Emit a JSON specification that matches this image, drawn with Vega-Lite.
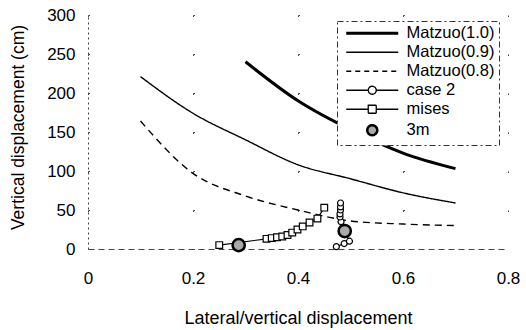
{
  "$schema": "https://vega.github.io/schema/vega-lite/v6.json",
  "width": 420,
  "height": 234,
  "autosize": "none",
  "padding": {"left": 88, "top": 15, "right": 18, "bottom": 81},
  "background": "white",
  "config": {"view": {"stroke": null}, "font": "Liberation Sans"},
  "data": {
    "values": [
      {"series": "Matzuo(1.0)", "x": 0.3, "y": 240},
      {"series": "Matzuo(1.0)", "x": 0.4, "y": 190},
      {"series": "Matzuo(1.0)", "x": 0.5, "y": 153},
      {"series": "Matzuo(1.0)", "x": 0.6, "y": 123},
      {"series": "Matzuo(1.0)", "x": 0.7, "y": 103},
      {"series": "Matzuo(0.9)", "x": 0.1, "y": 221},
      {"series": "Matzuo(0.9)", "x": 0.2, "y": 174},
      {"series": "Matzuo(0.9)", "x": 0.3, "y": 140},
      {"series": "Matzuo(0.9)", "x": 0.4, "y": 108},
      {"series": "Matzuo(0.9)", "x": 0.5, "y": 90},
      {"series": "Matzuo(0.9)", "x": 0.6, "y": 72},
      {"series": "Matzuo(0.9)", "x": 0.7, "y": 59},
      {"series": "Matzuo(0.8)", "x": 0.1, "y": 164},
      {"series": "Matzuo(0.8)", "x": 0.2, "y": 97},
      {"series": "Matzuo(0.8)", "x": 0.3, "y": 68},
      {"series": "Matzuo(0.8)", "x": 0.4, "y": 50},
      {"series": "Matzuo(0.8)", "x": 0.5, "y": 36},
      {"series": "Matzuo(0.8)", "x": 0.6, "y": 32},
      {"series": "Matzuo(0.8)", "x": 0.7, "y": 30},
      {"series": "mises", "x": 0.25, "y": 5},
      {"series": "mises", "x": 0.34, "y": 13},
      {"series": "mises", "x": 0.35, "y": 14},
      {"series": "mises", "x": 0.36, "y": 15},
      {"series": "mises", "x": 0.37, "y": 16},
      {"series": "mises", "x": 0.38, "y": 18},
      {"series": "mises", "x": 0.389, "y": 21},
      {"series": "mises", "x": 0.399, "y": 25},
      {"series": "mises", "x": 0.409, "y": 29},
      {"series": "mises", "x": 0.422, "y": 34},
      {"series": "mises", "x": 0.437, "y": 39},
      {"series": "mises", "x": 0.45, "y": 53},
      {"series": "case 2", "k": 1, "x": 0.473, "y": 3},
      {"series": "case 2", "k": 2, "x": 0.488, "y": 7},
      {"series": "case 2", "k": 3, "x": 0.498, "y": 10},
      {"series": "case 2", "k": 4, "x": 0.489, "y": 22},
      {"series": "case 2", "k": 5, "x": 0.482, "y": 35},
      {"series": "case 2", "k": 6, "x": 0.48, "y": 41},
      {"series": "case 2", "k": 7, "x": 0.48, "y": 45},
      {"series": "case 2", "k": 8, "x": 0.481, "y": 50},
      {"series": "case 2", "k": 9, "x": 0.481, "y": 54},
      {"series": "case 2", "k": 10, "x": 0.481, "y": 59},
      {"series": "3m", "x": 0.287, "y": 5},
      {"series": "3m", "x": 0.489, "y": 23}
    ]
  },
  "encoding": {
    "x": {
      "field": "x", "type": "quantitative",
      "scale": {"domain": [0, 0.8], "nice": false, "zero": false},
      "axis": {
        "title": "Lateral/vertical displacement",
        "values": [0, 0.2, 0.4, 0.6, 0.8],
        "format": "~g",
        "labelFontSize": 17, "labelColor": "#000", "labelPadding": 21,
        "labelFlush": false, "labelOverlap": false,
        "ticks": false,
        "domainColor": "#444", "domainDash": [6, 4],
        "grid": true, "gridColor": "#444", "gridDash": [1.5, 37.5],
        "titleFontSize": 18, "titleFontWeight": "normal", "titleColor": "#000",
        "titleY": 69, "titleBaseline": "middle"
      }
    },
    "y": {
      "field": "y", "type": "quantitative",
      "scale": {"domain": [0, 300], "nice": false},
      "axis": {
        "title": "Vertical displacement (cm)",
        "values": [0, 50, 100, 150, 200, 250, 300],
        "labelFontSize": 17, "labelColor": "#000", "labelPadding": 13,
        "labelOverlap": false,
        "ticks": false,
        "domainColor": "#444", "domainDash": [2, 3],
        "grid": true, "gridColor": "#444", "gridDash": [1.5, 103.5],
        "titleFontSize": 17.5, "titleFontWeight": "normal", "titleColor": "#000",
        "titleX": -70, "titleY": 112, "titleAngle": -90, "titleBaseline": "middle"
      }
    }
  },
  "layer": [
    {
      "transform": [{"filter": {"field": "series", "oneOf": ["Matzuo(0.9)", "Matzuo(0.8)"]}}],
      "mark": {"type": "line", "strokeWidth": 1.4, "interpolate": "monotone"},
      "encoding": {
        "color": {
          "field": "series", "type": "nominal",
          "scale": {
            "domain": ["Matzuo(1.0)", "Matzuo(0.9)", "Matzuo(0.8)", "case 2", "mises", "3m"],
            "range": ["#000", "#000", "#000", "#000", "#000", "#000"]
          },
          "legend": {
            "title": null,
            "orient": "none", "legendX": 249, "legendY": 6,
            "symbolSize": 100,
            "symbolOffset": 23,
            "labelOffset": 26,
            "labelFontSize": 16.5, "labelFont": "Liberation Sans", "labelColor": "#000",
            "padding": 4, "rowPadding": 2,
            "strokeColor": "#333", "fillColor": "white",
            "encode": {
              "legend": {"update": {"strokeDash": {"value": [6, 3, 2, 3]}}},
              "symbols": {
                "update": {
                  "shape": {"signal": "datum.value === 'case 2' ? 'M-5.2,0H-0.8M0.8,0H5.2M-0.8,0A0.8,0.8 0 1,1 0.8,0A0.8,0.8 0 1,1 -0.8,0' : datum.value === 'mises' ? 'M-5.2,0H-0.8M0.8,0H5.2M-0.8,-0.8H0.8V0.8H-0.8Z' : datum.value === '3m' ? 'M-1,0A1,1 0 1,1 1,0A1,1 0 1,1 -1,0Z' : 'M-5.2,0H5.2'"},
                  "fill": {"signal": "datum.value === '3m' ? '#aaaaaa' : (datum.value === 'case 2' || datum.value === 'mises') ? '#ffffff' : 'transparent'"},
                  "stroke": {"value": "#000000"},
                  "strokeWidth": {"signal": "datum.value === 'Matzuo(1.0)' ? 3 : datum.value === '3m' ? 2.5 : 1.3"},
                  "strokeDash": {"signal": "datum.value === 'Matzuo(0.8)' ? [5, 4] : [1, 0]"},
                  "opacity": {"value": 1}
                }
              }
            }
          }
        },
        "strokeDash": {
          "field": "series", "type": "nominal",
          "scale": {"domain": ["Matzuo(0.9)", "Matzuo(0.8)"], "range": [[1, 0], [7, 5]]},
          "legend": null
        }
      }
    },
    {
      "transform": [{"filter": {"field": "series", "equal": "Matzuo(1.0)"}}],
      "mark": {"type": "line", "strokeWidth": 3, "color": "#000", "interpolate": "monotone"},
      "encoding": {}
    },
    {
      "transform": [{"filter": {"field": "series", "equal": "mises"}}],
      "mark": {"type": "line", "strokeWidth": 1.2, "color": "#000"},
      "encoding": {}
    },
    {
      "transform": [{"filter": {"field": "series", "equal": "mises"}}],
      "mark": {"type": "point", "shape": "square", "size": 45, "filled": true, "fill": "white", "stroke": "#000", "strokeWidth": 1.2, "opacity": 1},
      "encoding": {}
    },
    {
      "transform": [{"filter": {"field": "series", "equal": "case 2"}}],
      "mark": {"type": "line", "strokeWidth": 1.2, "color": "#000"},
      "encoding": {"order": {"field": "k", "type": "quantitative"}}
    },
    {
      "transform": [{"filter": {"field": "series", "equal": "case 2"}}],
      "mark": {"type": "point", "shape": "circle", "size": 36, "filled": true, "fill": "white", "stroke": "#000", "strokeWidth": 1.2, "opacity": 1},
      "encoding": {}
    },
    {
      "transform": [{"filter": {"field": "series", "equal": "3m"}}],
      "mark": {"type": "point", "shape": "circle", "size": 150, "filled": true, "fill": "#aaaaaa", "stroke": "#000", "strokeWidth": 2.5, "opacity": 1},
      "encoding": {}
    }
  ]
}
